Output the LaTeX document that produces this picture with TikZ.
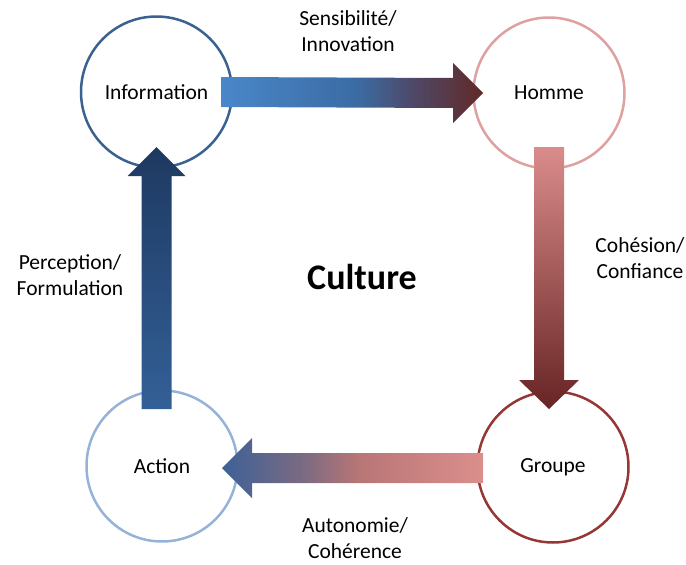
\documentclass[tikz,border=0pt]{standalone}
\usepackage{fontspec}
\setmainfont{Carlito}
\usetikzlibrary{calc}

\definecolor{infobleu}{RGB}{58,97,144}
\definecolor{hommerose}{RGB}{223,160,160}
\definecolor{grouperouge}{RGB}{149,55,53}
\definecolor{actionbleu}{RGB}{149,179,215}
\definecolor{rosehaut}{RGB}{218,140,139}
\definecolor{rougebas}{RGB}{103,36,36}
\definecolor{bleuhaut}{RGB}{30,57,97}
\definecolor{bleubas}{RGB}{51,96,151}

% gradients of the horizontal arrows
\pgfdeclarehorizontalshading{infohomme}{100bp}{rgb(0bp)=(0.29,0.53,0.79); rgb(25bp)=(0.29,0.53,0.79); rgb(51bp)=(0.23,0.42,0.64); rgb(62bp)=(0.31,0.28,0.40); rgb(75bp)=(0.38,0.16,0.15); rgb(100bp)=(0.38,0.16,0.15)}
\pgfdeclarehorizontalshading{groupeaction}{100bp}{rgb(0bp)=(0.24,0.38,0.59); rgb(25bp)=(0.24,0.38,0.59); rgb(41bp)=(0.49,0.42,0.51); rgb(51bp)=(0.72,0.46,0.46); rgb(75bp)=(0.86,0.56,0.55); rgb(100bp)=(0.86,0.56,0.55)}

\begin{document}
\begin{tikzpicture}[x=1pt, y=-1pt,
    rond/.style={circle, draw, line width=2.5pt, minimum size=151pt, inner sep=0pt,
                 font=\fontsize{21.5}{26}\selectfont},
    etiq/.style={align=center, font=\fontsize{21.5}{26}\selectfont}]
    \useasboundingbox (0,0) rectangle (686,565);

    \node[rond, draw=infobleu] (info) at (156.5, 92) {Information};
    \node[rond, draw=hommerose] (homme) at (549, 93) {Homme};
    \node[rond, draw=grouperouge] (groupe) at (553, 467) {Groupe};
    \node[rond, draw=actionbleu] (action) at (162, 466) {Action};

    % arrows
    \shade[shading=infohomme] ($(info)+(64.5,-15)$) -- ($(homme)+(-96,-15)$) -- ($(homme)+(-96,-30)$)
        -- ($(homme)+(-66,0)$) -- ($(homme)+(-96,30)$) -- ($(homme)+(-96,15)$) -- ($(info)+(64.5,15)$) -- cycle;
    \shade[top color=rosehaut, bottom color=rougebas] ($(homme)+(-15,54)$) -- ($(homme |- groupe)+(-15,-87)$)
        -- ($(homme |- groupe)+(-30,-87)$) -- ($(homme |- groupe)+(0,-58)$) -- ($(homme |- groupe)+(30,-87)$)
        -- ($(homme |- groupe)+(15,-87)$) -- ($(homme)+(15,54)$) -- cycle;
    \shade[shading=groupeaction] ($(groupe)+(-70,-14)$) -- ($(action)+(90,-13)$) -- ($(action)+(90,-28)$)
        -- ($(action)+(60,2)$) -- ($(action)+(90,32)$) -- ($(action)+(90,17)$) -- ($(groupe)+(-70,16)$) -- cycle;
    \shade[top color=bleuhaut, bottom color=bleubas] ($(info |- action)+(-15,-57)$) -- ($(info)+(-15,84)$)
        -- ($(info)+(-29,84)$) -- ($(info)+(0,55)$) -- ($(info)+(29,84)$) -- ($(info)+(15,84)$)
        -- ($(info |- action)+(15,-57)$) -- cycle;

    \node[etiq] (sensib) at (348, 31) {Sensibilité/\\Innovation};
    \node[etiq] (cohesion) at (640, 258) {Cohésion/\\Confiance};
    \node[etiq] (autonomie) at (355, 538) {Autonomie/\\Cohérence};
    \node[etiq] (perception) at (70, 275) {Perception/\\Formulation};
    \node[font=\bfseries\fontsize{36}{42}\selectfont] (culture) at (362, 277) {Culture};
\end{tikzpicture}
\end{document}
